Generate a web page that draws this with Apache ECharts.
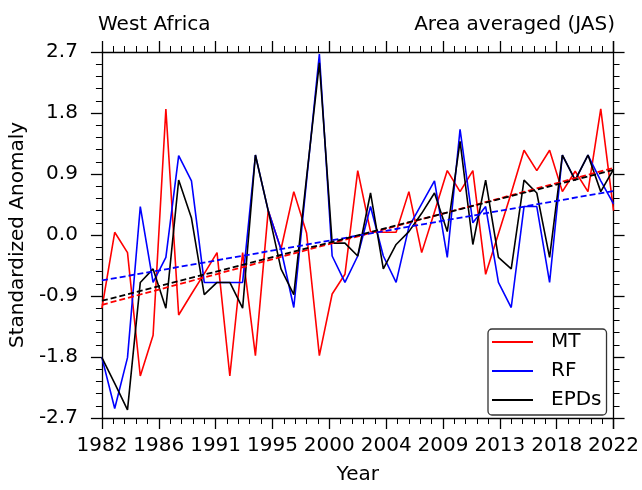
<!DOCTYPE html>
<html>
<head>
<meta charset="utf-8">
<title>West Africa</title>
<script src="https://cdn.jsdelivr.net/npm/echarts@6/dist/echarts.min.js"></script>
<style>
  html, body { margin: 0; padding: 0; background: #fff; }
  #chart { width: 642px; height: 490px; }
</style>
</head>
<body>
<div id="chart"></div>
<script>
// years on the x axis
const years = [1982, 1983, 1984, 1985, 1986, 1987, 1988, 1989, 1990, 1991,
  1992, 1993, 1994, 1995, 1996, 1997, 1998, 1999, 2000, 2001,
  2002, 2003, 2004, 2005, 2006, 2007, 2008, 2009, 2010, 2011,
  2012, 2013, 2014, 2015, 2016, 2017, 2018, 2019, 2020, 2021, 2022];

// standardized anomalies
const mt = [-1.08, 0.04, -0.26, -2.08, -1.48, 1.86, -1.18, -0.87, -0.57, -0.26,
  -2.08, -0.26, -1.78, 0.36, -0.21, 0.64, 0.03, -1.78, -0.87, -0.58,
  0.95, 0.05, 0.04, 0.04, 0.64, -0.26, 0.34, 0.95, 0.64, 0.95,
  -0.58, 0.02, 0.62, 1.25, 0.95, 1.25, 0.64, 0.94, 0.64, 1.86, 0.36];
const rf = [-1.81, -2.56, -1.81, 0.42, -0.70, -0.33, 1.17, 0.80, -0.70, -0.70,
  -0.70, -0.70, 1.18, 0.36, -0.21, -1.07, 0.80, 2.67, -0.31, -0.70,
  -0.31, 0.42, -0.31, -0.70, 0.12, 0.46, 0.80, -0.33, 1.56, 0.18,
  0.42, -0.70, -1.07, 0.42, 0.42, -0.70, 1.18, 0.81, 1.18, 0.80, 0.46];
const epds = [-1.81, -2.19, -2.58, -0.70, -0.50, -1.08, 0.81, 0.25, -0.88, -0.70,
  -0.70, -1.08, 1.18, 0.36, -0.50, -0.88, 0.85, 2.54, -0.12, -0.12,
  -0.31, 0.62, -0.50, -0.14, 0.05, 0.32, 0.62, 0.05, 1.38, -0.14,
  0.81, -0.33, -0.50, 0.81, 0.62, -0.33, 1.18, 0.81, 1.18, 0.64, 0.97];

// linear trend end points (first year, last year)
const trendYears = [1982, 2022];
const trendMt = [-1.03, 0.99];
const trendRf = [-0.67, 0.65];
const trendEpds = [-0.97, 0.96];

const seriesNames = ['MT', 'RF', 'EPDs'];
const seriesColors = ['#ff0000', '#0000ff', '#000000'];

const yTicks = [-2.7, -1.8, -0.9, 0.0, 0.9, 1.8, 2.7];

const font = 'DejaVu Sans';
const firstYear = years[0];
const span = years[years.length - 1] - firstYear;

function toPoints(xs, ys) {
  return xs.map((x, i) => [x - firstYear, ys[i]]);
}

function xAxisDef(pos, showLabel) {
  return {
    type: 'value',
    position: pos,
    min: 0,
    max: span,
    interval: span / 9,
    axisLine: { show: true, onZero: false, lineStyle: { color: '#000', width: 1.3 } },
    axisTick: { show: true, inside: false, length: 11, lineStyle: { color: '#000', width: 1.3 } },
    minorTick: { show: true, splitNumber: 5, length: 6, lineStyle: { color: '#000', width: 1 } },
    splitLine: { show: false },
    axisLabel: {
      show: showLabel,
      margin: 18,
      fontFamily: font,
      fontSize: 20,
      color: '#000',
      formatter: v => String(Math.round(firstYear + v))
    },
    name: showLabel ? 'Year' : '',
    nameLocation: 'middle',
    nameGap: 47,
    nameTextStyle: { fontFamily: font, fontSize: 20, color: '#000' }
  };
}

function yAxisDef(pos, showLabel) {
  return {
    type: 'value',
    position: pos,
    min: yTicks[0],
    max: yTicks[yTicks.length - 1],
    interval: 0.9,
    axisLine: { show: true, onZero: false, lineStyle: { color: '#000', width: 1.3 } },
    axisTick: { show: true, inside: false, length: 11, lineStyle: { color: '#000', width: 1.3 } },
    minorTick: { show: true, splitNumber: 5, length: 6, lineStyle: { color: '#000', width: 1 } },
    splitLine: { show: false },
    axisLabel: {
      show: showLabel,
      margin: 24,
      fontFamily: font,
      fontSize: 20,
      color: '#000',
      formatter: v => Number(v).toFixed(1)
    },
    name: showLabel ? 'Standardized Anomaly' : '',
    nameLocation: 'middle',
    nameRotate: 90,
    nameGap: 65,
    nameTextStyle: { fontFamily: font, fontSize: 20, color: '#000' }
  };
}

function dataLine(name, values, color) {
  return {
    name: name,
    type: 'line',
    data: toPoints(years, values),
    symbol: 'none',
    lineStyle: { color: color, width: 1.6 },
    itemStyle: { color: color },
    animation: false
  };
}

function trendLine(values, color) {
  return {
    name: 'trend',
    type: 'line',
    data: toPoints(trendYears, values),
    symbol: 'none',
    silent: true,
    lineStyle: { color: color, width: 1.8, type: [6, 3] },
    animation: false
  };
}

const chart = echarts.init(document.getElementById('chart'), null, { renderer: 'canvas' });

chart.setOption({
  animation: false,
  backgroundColor: '#fff',
  textStyle: { fontFamily: font },
  title: [
    { text: 'West Africa', left: 98, top: 15, padding: 0,
      textStyle: { fontFamily: font, fontSize: 20, fontWeight: 'normal', color: '#000' } },
    { text: 'Area averaged (JAS)', right: 27, top: 15, padding: 0,
      textStyle: { fontFamily: font, fontSize: 20, fontWeight: 'normal', color: '#000' } }
  ],
  grid: { left: 98, right: 28, top: 52, bottom: 65, containLabel: false },
  legend: {
    data: seriesNames,
    orient: 'vertical',
    left: 488,
    top: 329,
    padding: [3, 5, 5, 4],
    itemGap: 9,
    itemWidth: 41,
    itemHeight: 2,
    icon: 'rect',
    selectedMode: false,
    borderColor: '#333',
    borderWidth: 1.3,
    borderRadius: 4,
    backgroundColor: '#fff',
    textStyle: { fontFamily: font, fontSize: 20, color: '#000', lineHeight: 20, padding: [0, 0, 0, 13] }
  },
  xAxis: [xAxisDef('bottom', true), xAxisDef('top', false)],
  yAxis: [yAxisDef('left', true), yAxisDef('right', false)],
  series: [
    dataLine(seriesNames[0], mt, seriesColors[0]),
    dataLine(seriesNames[1], rf, seriesColors[1]),
    dataLine(seriesNames[2], epds, seriesColors[2]),
    trendLine(trendMt, seriesColors[0]),
    trendLine(trendRf, seriesColors[1]),
    trendLine(trendEpds, seriesColors[2])
  ]
});
</script>
</body>
</html>
